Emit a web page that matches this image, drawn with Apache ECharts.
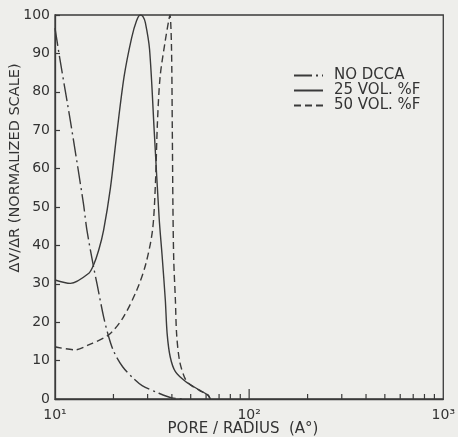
<!DOCTYPE html>
<html>
<head>
<meta charset="utf-8">
<script src="https://cdn.jsdelivr.net/npm/echarts@6/dist/echarts.min.js"></script>
<style>html,body{margin:0;padding:0;background:#eeeeeb;}#c{width:458px;height:437px;}</style>
</head>
<body>
<div id="c"></div>
<script>
// Data
const seriesNames = ['NO DCCA', '25 VOL. %F', '50 VOL. %F'];
const xNoDcca = [10, 10.6, 12.0, 14.0, 14.6, 15.8, 16.5, 17.8, 18.9, 20.1, 22.3, 25.3, 28.1, 34.3, 40, 46];
const yNoDcca = [96.6, 88.5, 72.4, 51, 44, 34.4, 29.7, 21.4, 16.2, 12.3, 8.4, 5.4, 3.5, 1.5, 0.3, 0];
const x25 = [10, 12.0, 14.9, 15.8, 16.8, 17.8, 19.3, 20.8, 22.7, 24.8, 26.3, 27.5, 28.4, 29.2, 30.7, 32.5, 34.4, 35.6, 37.0, 37.8, 39.2, 41.7, 47.2, 55.6, 61.4, 63];
const y25 = [31, 30.1, 32.7, 34.9, 38.8, 44, 55, 69, 84, 94, 98.5, 100, 99.6, 98, 91, 69, 47, 37.5, 25.8, 17.1, 11, 7.1, 4.5, 2.3, 1, 0];
const x50 = [10, 12.7, 14.9, 18.9, 22.3, 26.4, 29.4, 31.8, 32.9, 33.7, 34.8, 36.9, 38.5, 39.1, 39.8, 40.2, 40.5, 40.9, 41.7, 42.3, 43.8, 46.6, 49.5, 55.6, 61.4, 63];
const y50 = [13.6, 12.8, 14.1, 16.7, 21, 28.4, 35.3, 44, 56, 72, 84, 93, 98.5, 100, 92, 70, 50, 36, 25.8, 17, 10, 5.5, 3.8, 2.2, 1, 0];
const minorTicks = [20, 30, 40, 50, 60, 70, 80, 90, 200, 300, 400, 500, 600, 700, 800, 900];
const majorTicks = [100];
const xTickLabels = {10: '10¹', 100: '10²', 1000: '10³'};

const ink = '#3a3a3a';
const font = 'DejaVu Sans';
const zip = (xs, ys) => xs.map((x, i) => [x, ys[i]]);

function tickSeries(vals, len) {
  return {
    type: 'custom',
    silent: true,
    clip: false,
    data: vals.map(v => [v, 0]),
    renderItem: function (params, api) {
      const p = api.coord([api.value(0), 0]);
      return {
        type: 'line',
        shape: {x1: p[0], y1: p[1], x2: p[0], y2: p[1] - len},
        style: {stroke: ink, lineWidth: 1.2}
      };
    }
  };
}

const chart = echarts.init(document.getElementById('c'), null, {renderer: 'canvas'});
chart.setOption({
  backgroundColor: '#eeeeeb',
  animation: false,
  textStyle: {fontFamily: font},
  grid: {left: 55, right: 13, top: 15, bottom: 38, show: true, borderColor: ink, borderWidth: 1.3, backgroundColor: 'transparent'},
  legend: {
    data: seriesNames,
    orient: 'vertical',
    left: 293,
    top: 68,
    itemWidth: 29,
    itemHeight: 10,
    itemGap: 0,
    padding: 0,
    itemStyle: {opacity: 0},
    textStyle: {fontFamily: font, fontSize: 15, color: '#333', lineHeight: 15, padding: [0, 0, 0, 6]}
  },
  xAxis: {
    type: 'log',
    logBase: 10,
    min: 10,
    max: 1000,
    axisLine: {show: true, lineStyle: {color: ink, width: 1.3}},
    axisTick: {show: false},
    splitLine: {show: false},
    axisLabel: {
      fontFamily: font, fontSize: 14, color: '#333', margin: 9,
      formatter: v => xTickLabels[Math.round(v)] || ''
    }
  },
  yAxis: {
    type: 'value',
    min: 0,
    max: 100,
    interval: 10,
    axisLine: {show: true, lineStyle: {color: ink, width: 1.3}},
    axisTick: {show: true, inside: true, length: 5, lineStyle: {color: ink, width: 1.2}},
    splitLine: {show: false},
    axisLabel: {fontFamily: font, fontSize: 14, color: '#333', margin: 5}
  },
  graphic: [
    {type: 'text', x: 15, y: 168, rotation: Math.PI / 2,
     style: {text: 'ΔV/ΔR (NORMALIZED SCALE)', font: '14.5px "DejaVu Sans"', fill: '#333', align: 'center', verticalAlign: 'middle'}},
    {type: 'text', x: 243, y: 429,
     style: {text: 'PORE / RADIUS  (A°)', font: '15px "DejaVu Sans"', fill: '#333', align: 'center', verticalAlign: 'middle'}}
  ],
  series: [
    {name: seriesNames[0], type: 'line', data: zip(xNoDcca, yNoDcca), symbol: 'none', smooth: 0.3,
     lineStyle: {color: ink, width: 1.4, type: [18, 4, 2, 4]}, itemStyle: {color: ink}},
    {name: seriesNames[1], type: 'line', data: zip(x25, y25), symbol: 'none', smooth: 0.3,
     lineStyle: {color: ink, width: 1.4, type: 'solid'}, itemStyle: {color: ink}},
    {name: seriesNames[2], type: 'line', data: zip(x50, y50), symbol: 'none', smooth: 0.3,
     lineStyle: {color: ink, width: 1.4, type: [7, 4]}, itemStyle: {color: ink}},
    tickSeries(minorTicks, 5),
    tickSeries(majorTicks, 10)
  ]
});
</script>
</body>
</html>
